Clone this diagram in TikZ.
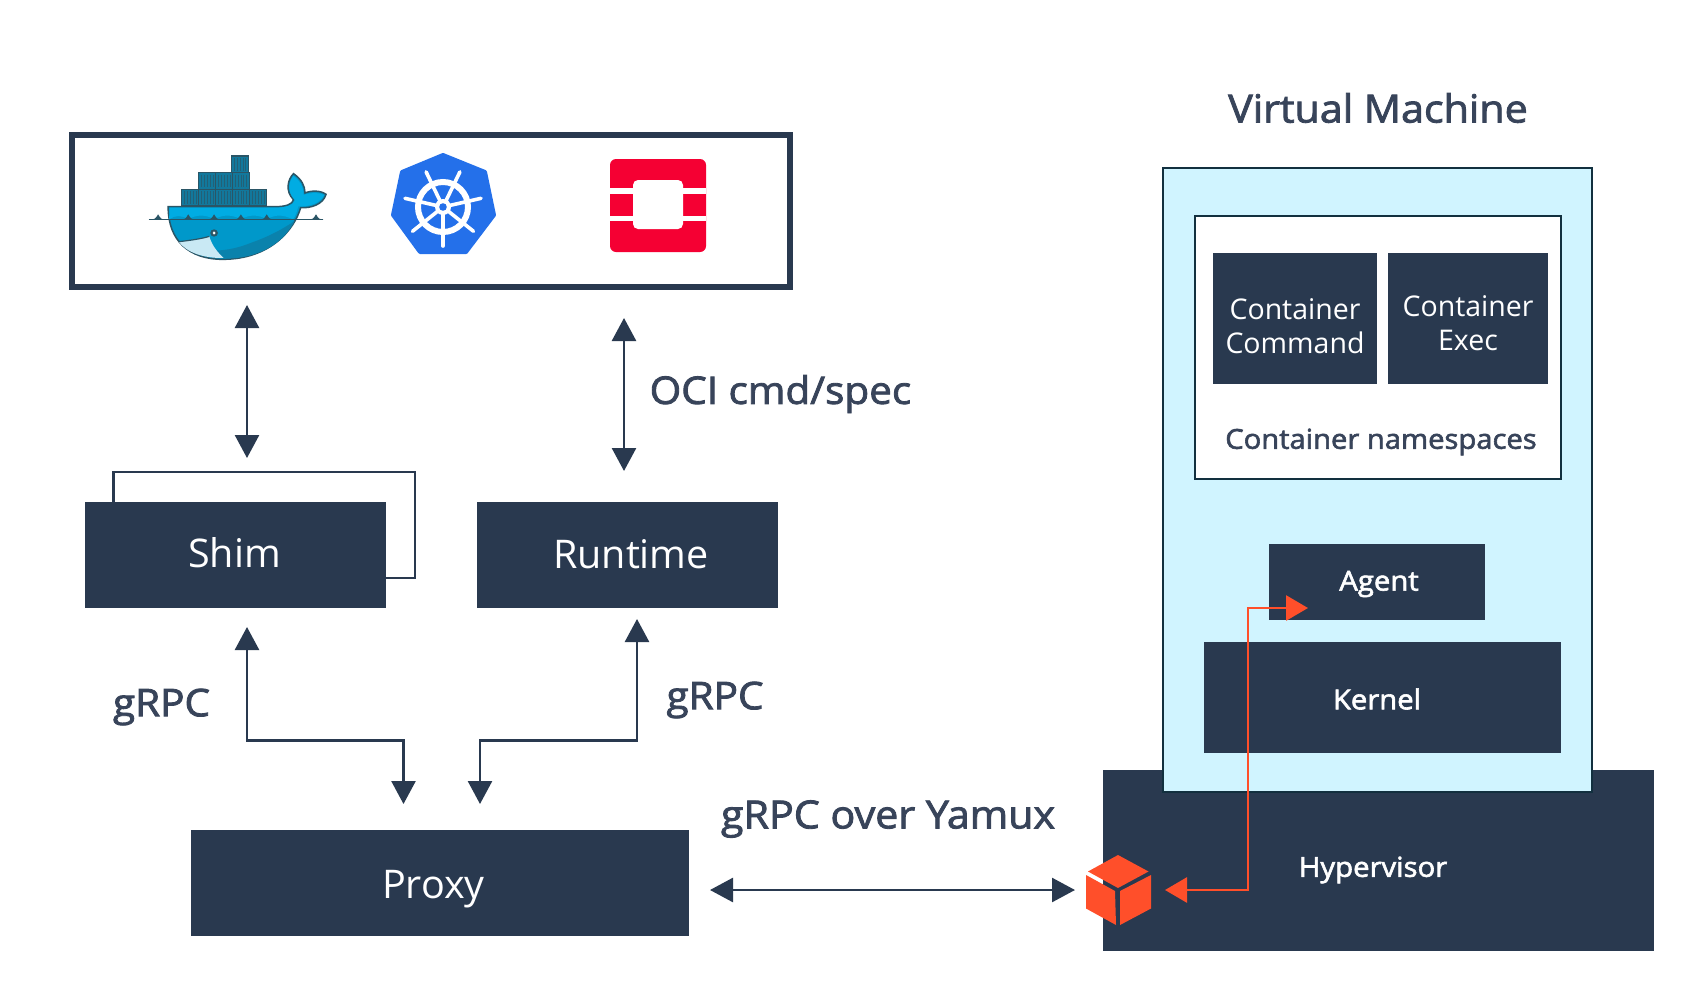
\documentclass[tikz,border=0pt]{standalone}
\usepackage{fontspec}
\setmainfont{Open Sans}
\newfontfamily\semi[FakeBold=2.2,FakeStretch=1.065]{Open Sans}
\usetikzlibrary{arrows.meta,calc}
\definecolor{navy}{HTML}{29394F}
\definecolor{inkc}{HTML}{38445A}
\definecolor{edgec}{HTML}{12303F}
\definecolor{vmblue}{HTML}{D0F4FF}
\definecolor{redc}{HTML}{FF4F2A}
\definecolor{osred}{HTML}{F50033}
\definecolor{kblue}{HTML}{2470EA}
\definecolor{wtop}{HTML}{00ACE3}
\definecolor{wmid}{HTML}{0098CA}
\definecolor{wlow}{HTML}{0A82AC}
\definecolor{wedge}{HTML}{2A5566}
\definecolor{wbox}{HTML}{12789C}
\tikzset{
  x=1pt,y=-1pt,
  darkbox/.style={fill=navy,draw=none,inner sep=0pt},
  biglabel/.style={text=white,inner sep=0pt,font=\fontsize{39.5}{46}\selectfont},
  smalllabel/.style={text=white,inner sep=0pt,align=center,font=\fontsize{28.5}{34}\selectfont},
  boldlabel/.style={text=white,inner sep=0pt,font=\semi\fontsize{27.5}{34}\selectfont},
  inklabel/.style={text=inkc,inner sep=0pt,font=\semi\fontsize{38}{46}\selectfont},
  inkwide/.style={text=inkc,inner sep=0pt,font=\semi\fontsize{38.7}{46}\selectfont},
  darrow/.style={draw=navy,line width=2.6pt,{Triangle[length=23pt,width=24pt]}-{Triangle[length=23pt,width=24pt]}},
  rarrow/.style={draw=redc,line width=2.8pt,{Triangle[length=22pt,width=25pt]}-{Triangle[length=22pt,width=25pt]}},
  contbox/.style={fill=wbox,draw=wedge,line width=1.2pt},
}
\newcommand{\whalebox}[2]{%
  \path[contbox] (#1,#2) rectangle ++(36,50);
  \foreach \k in {6,12,18,24,30} \draw[wedge!70!wbox,line width=.5pt] (#1+\k,#2+6) -- (#1+\k,#2+44);
}
\begin{document}
\begin{tikzpicture}
\useasboundingbox (0,0) rectangle (1695,1004);
\fill[white] (0,0) rectangle (1695,1004);

% --- client box
\node[draw=navy,line width=5.5pt,fill=white,inner sep=0pt,minimum width=718pt,minimum height=152pt] (clients) at (431,211) {};

% --- docker
\begin{scope}[shift={(60,121)},x=0.4785pt,y=-0.3333pt]
  \whalebox{358}{105}
  \whalebox{290}{155}\whalebox{325}{155}\whalebox{360}{155}
  \whalebox{254}{205}\whalebox{290}{205}\whalebox{325}{205}\whalebox{360}{205}\whalebox{396}{205}
  % body
  \path[fill=wmid,draw=wedge,line width=1.5pt] (226,257) -- (450,257)
     .. controls (472,257) and (486,250) .. (488,236)
     .. controls (470,210) and (476,175) .. (488,158)
     .. controls (505,175) and (512,195) .. (512,216)
     .. controls (525,208) and (545,208) .. (556,220)
     .. controls (550,250) and (525,262) .. (503,260)
     .. controls (490,325) and (440,415) .. (340,415)
     .. controls (270,415) and (226,360) .. (226,257) -- cycle;
  \path[fill=wtop] (229,260) -- (450,260)
     .. controls (472,260) and (488,252) .. (491,238)
     .. controls (473,210) and (479,180) .. (488,165)
     .. controls (502,180) and (509,198) .. (509,222)
     .. controls (525,214) and (540,214) .. (552,222)
     .. controls (545,245) and (522,258) .. (498,256)
     .. controls (496,270) and (492,285) .. (487,295)
     .. controls (465,280) and (450,280) .. (432,295)
     .. controls (415,280) and (395,280) .. (378,295)
     .. controls (360,280) and (340,280) .. (322,295)
     .. controls (305,280) and (285,280) .. (268,295)
     .. controls (255,282) and (240,282) .. (228,295) -- cycle;
  \path[fill=wlow] (490,300) .. controls (470,360) and (420,415) .. (340,413)
     .. controls (310,412) and (280,400) .. (258,375)
     .. controls (300,395) and (350,395) .. (400,365)
     .. controls (440,345) and (470,320) .. (490,300) -- cycle;
  \path[fill=white!70!wmid!70!white] (248,362) .. controls (275,358) and (300,352) .. (312,346)
     .. controls (318,375) and (330,395) .. (342,411)
     .. controls (300,412) and (265,395) .. (248,362) -- cycle;
  \draw[wedge,line width=1.2pt] (248,362) .. controls (275,358) and (300,352) .. (312,346);
  \fill[wedge] (322,336) ellipse (8 and 11);
  \fill[white] (322,336) ellipse (3 and 5);
  % water
  \draw[wedge,line width=1.4pt] (185,296) -- (550,296);
  \foreach \p in {205,268,322,378,432,535}
    \fill[wedge] (\p-16,296) .. controls (\p-6,294) .. (\p,280) .. controls (\p+6,294) .. (\p+16,296) -- cycle;
\end{scope}

% --- kubernetes
\fill[kblue,draw=kblue,line width=4pt,line join=round]
  (443,155) -- (485,172) -- (494,215) -- (466,252) -- (420,252) -- (393,215) -- (402,172) -- cycle;
\draw[white,line width=6pt] (443,207) circle (25);
\foreach \a in {90,141.43,192.86,244.29,295.71,347.14,398.57}
  \draw[white,line width=3.6pt,line cap=round] (443,207) -- ++(\a:-39pt);
\fill[white] (443,207) circle (8);
\fill[kblue] (443,207) circle (3.8);

% --- openshift
\fill[osred,rounded corners=6pt] (610,159) rectangle (706,252);
\fill[white,rounded corners=5pt] (633,180) rectangle (683,229);
\fill[white] (610,188) rectangle (633,194);
\fill[white] (683,188) rectangle (706,194);
\fill[white] (610,216) rectangle (633,221);
\fill[white] (683,216) rectangle (706,221);

% --- left stack
\draw[navy,line width=2.6pt] (113.5,503) -- (113.5,472) -- (415,472) -- (415,578) -- (385,578);
\node[darkbox,minimum width=301pt,minimum height=106pt] (shim) at (235.5,554.5) {};
\node[biglabel] (shimt) at (234.5,553) {Shim};
\node[darkbox,minimum width=301pt,minimum height=106pt] (runtime) at (627.5,554.5) {};
\node[biglabel] (runtimet) at (631,554) {Runtime};
\node[darkbox,minimum width=498pt,minimum height=106pt] (proxy) at (440,883) {};
\node[biglabel] (proxyt) at (433.5,889) {Proxy};

% --- connector ends
\coordinate (a1) at (247,305);
\coordinate (a2) at (247,458);
\coordinate (b1) at (624,318);
\coordinate (b2) at (624,471);
\coordinate (c1) at (247,627);
\coordinate (c2) at (403.5,804);
\coordinate (d1) at (637,619);
\coordinate (d2) at (480,804);
\coordinate (e1) at (710,890);
\coordinate (e2) at (1075,890);
\coordinate (f1) at (1165,890);
\coordinate (f2) at (1308,608);

\draw[darrow] (a1) -- (a2);
\draw[darrow] (b1) -- (b2);
\draw[darrow] (c1) |- (403.5,740.5) -- (c2);
\draw[darrow] (d1) |- (480,740.5) -- (d2);
\draw[darrow] (e1) -- (e2);

\node[inklabel,anchor=west] (oci) at (649.5,394) {OCI cmd/spec};
\node[inklabel] (grpca) at (161.5,707) {gRPC};
\node[inklabel] (grpcb) at (715,700) {gRPC};
\node[inkwide] (yamux) at (888,819) {gRPC over Yamux};

% --- VM
\node[darkbox,minimum width=551pt,minimum height=181pt] (hyper) at (1378.5,860.5) {};
\node[boldlabel] (hypert) at (1373,870) {Hypervisor};
\node[inkwide] (vmt) at (1378,108) {Virtual Machine};
\node[draw=edgec,line width=2.8pt,fill=vmblue,inner sep=0pt,minimum width=429pt,minimum height=624pt] (vm) at (1377.5,480) {};
\node[draw=edgec,line width=2.8pt,fill=white,inner sep=0pt,minimum width=366pt,minimum height=263pt] (ns) at (1378,347.5) {};
\node[darkbox,minimum width=164pt,minimum height=131pt] (cmd) at (1295,318.5) {};
\node[smalllabel] (cmdt) at (1295,326) {Container\\Command};
\node[darkbox,minimum width=160pt,minimum height=131pt] (exec) at (1468,318.5) {};
\node[smalllabel] (exect) at (1468,323) {Container\\Exec};
\node[text=inkc,inner sep=0pt,font=\semi\fontsize{27.4}{34}\selectfont] (nst) at (1381,442) {Container namespaces};
\node[darkbox,minimum width=216pt,minimum height=76pt] (agent) at (1377,582) {};
\node[boldlabel] (agentt) at (1379,584) {Agent};
\node[darkbox,minimum width=357pt,minimum height=111pt] (kernel) at (1382.5,697.5) {};
\node[boldlabel] (kernelt) at (1377,699) {Kernel};

% --- cube
\fill[redc] (1118,855) -- (1148.5,871.5) -- (1118,888) -- (1088,871.5) -- cycle;
\fill[redc] (1086,875) -- (1115,891) -- (1116,925) -- (1086,908.5) -- cycle;
\fill[redc] (1120,891) -- (1151,875) -- (1151,908.5) -- (1120,925) -- cycle;

% --- agent link
\draw[rarrow] (f1) -- (1248,890) -- (1248,608) -- (f2);
\end{tikzpicture}
\end{document}
